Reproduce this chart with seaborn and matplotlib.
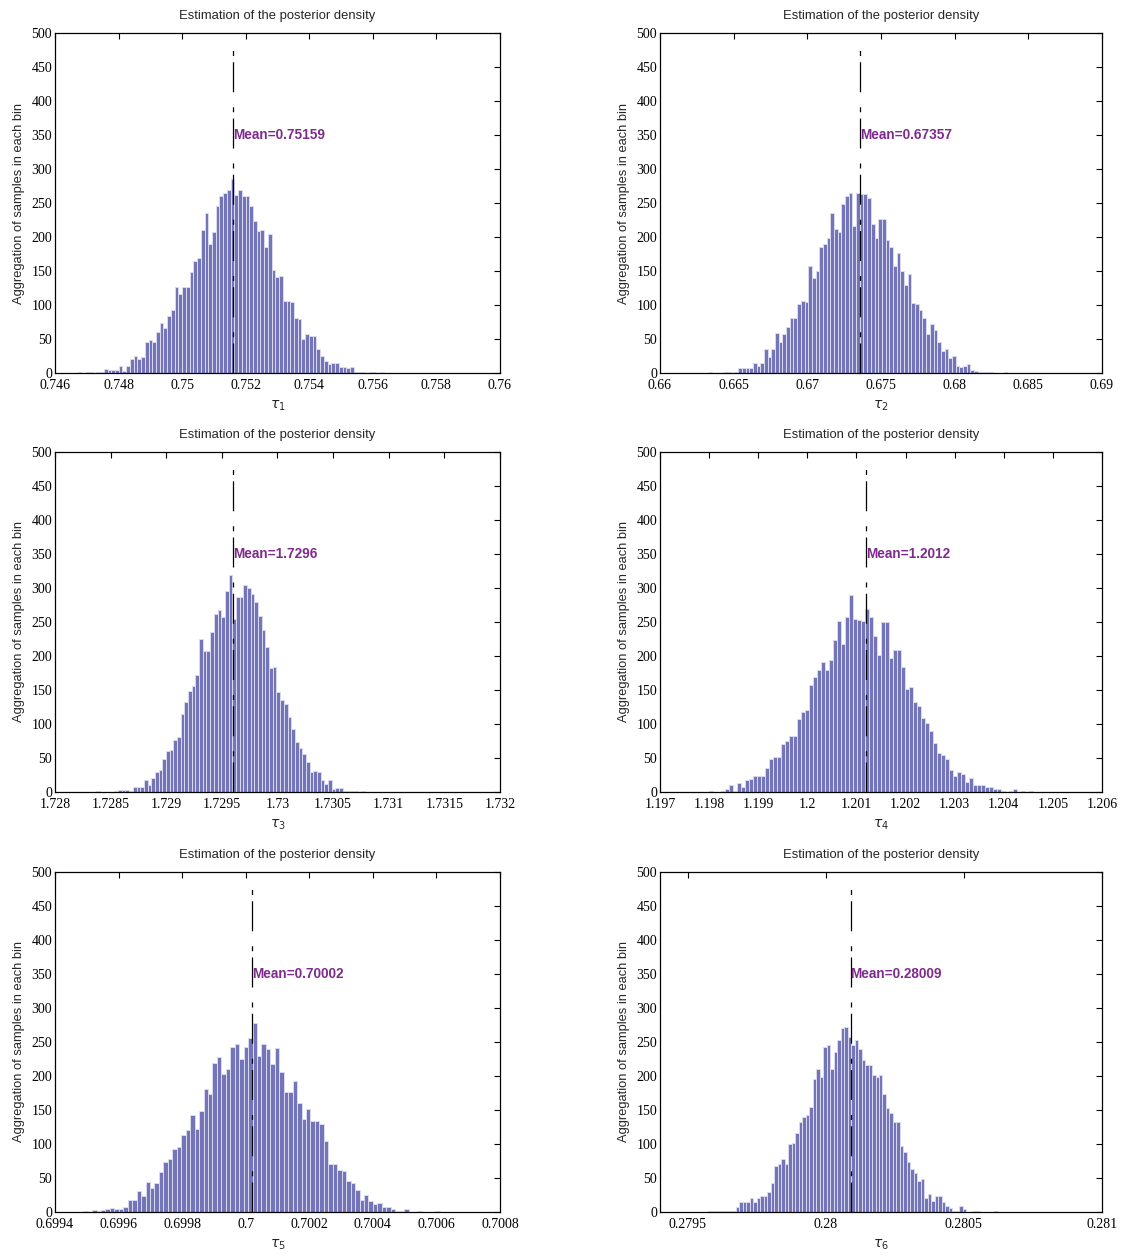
import numpy as np
import pandas as pd
import matplotlib
matplotlib.use("Agg")
import matplotlib.pyplot as plt
import matplotlib.ticker as mticker
import seaborn as sns

# ---------------------------------------------------------------
# histogram counts (one list per parameter)
# first = centre of first bin, width = bin width
# ---------------------------------------------------------------
tau1_counts = [1, 0, 1, 1, 0, 1, 2,
               6, 5, 5, 4, 10, 3, 11, 21, 25, 21, 23, 45, 48, 46, 60, 73, 66, 84, 92, 126,
               116, 126, 127, 148, 164, 169, 210, 235, 190, 208, 246, 260, 265, 269, 286, 262,
               269, 260, 261, 245, 224, 209, 210, 186, 205, 151, 141, 143, 106, 106, 104, 81,
               80, 50, 58, 55, 54, 35, 25, 17, 13, 15, 15, 9, 9, 7, 9, 1, 1, 2,
               0, 1, 1, 0, 1, 0]
tau1_first, tau1_width, tau1_mean = 0.7467726, 1.1735e-4, 0.75159

tau2_counts = [2, 0, 0, 0, 1, 2, 0, 2,
               7, 7, 7, 7, 14, 10, 14, 36, 23, 36, 59, 46, 57, 67, 81, 81, 101, 106, 105, 158,
               140, 150, 186, 189, 199, 235, 212, 207, 248, 261, 264, 216, 264, 263, 263, 258,
               219, 198, 227, 227, 196, 185, 158, 176, 150, 130, 146, 103, 102, 93, 81, 57,
               72, 63, 45, 33, 35, 22, 25, 11, 9, 10, 13, 5, 3, 2, 2,
               1, 1, 0, 0, 0, 2]
tau2_first, tau2_width, tau2_mean = 0.663428, 2.502e-4, 0.67357

tau3_counts = [1, 0, 0, 0, 0, 1,
               3, 3, 3, 2, 8, 8, 8, 18, 11, 20, 30, 32, 49, 61, 62, 77, 81, 114, 132, 149,
               156, 172, 225, 208, 208, 236, 262, 268, 257, 296, 319, 254, 287, 287, 304, 300,
               291, 280, 259, 238, 213, 182, 184, 147, 135, 129, 110, 92, 73, 65, 56, 44, 29,
               31, 30, 18, 12, 17, 5, 6, 6, 2, 2,
               1, 2, 0, 1]
tau3_first, tau3_width, tau3_mean = 1.728385, 3.311e-5, 1.7296

tau4_counts = [1, 0, 0, 1,
               5, 11, 2, 13, 8, 18, 19, 24, 24, 24, 35, 48, 52, 51, 70, 75, 82, 82, 107, 117,
               120, 157, 169, 180, 191, 180, 194, 223, 252, 218, 257, 290, 254, 253, 252, 269,
               257, 229, 202, 250, 250, 197, 209, 209, 184, 152, 154, 132, 127, 109, 102, 89,
               72, 57, 54, 48, 33, 24, 29, 27, 15, 20, 11, 11, 11, 8, 7, 5, 5,
               1, 0, 2, 4, 0, 2, 0, 1]
tau4_first, tau4_width, tau4_mean = 1.198030, 8.165e-5, 1.2012

tau5_counts = [1, 0,
               3, 2, 3, 4, 6, 5, 5, 7, 17, 18, 31, 23, 44, 36, 42, 59, 73, 78, 93, 95, 113, 121,
               142, 122, 149, 181, 174, 219, 228, 203, 211, 243, 247, 225, 242, 256, 278, 229,
               247, 239, 217, 241, 206, 177, 177, 192, 161, 137, 152, 134, 134, 130, 105, 70,
               71, 62, 60, 45, 42, 32, 17, 25, 16, 12, 13, 8, 8, 5, 2, 2, 5,
               0, 0, 1, 0, 0, 0, 1]
tau5_first, tau5_width, tau5_mean = 0.6994957, 1.4021e-5, 0.70002

tau6_counts = [2, 2, 1, 2, 2, 1, 2, 2,
               8, 15, 14, 14, 20, 14, 20, 23, 23, 29, 43, 67, 71, 78, 71, 100, 102, 116, 132,
               140, 143, 155, 195, 210, 199, 243, 245, 211, 236, 253, 270, 272, 258, 245, 253,
               239, 223, 216, 216, 201, 199, 201, 174, 153, 146, 132, 132, 97, 88, 73, 63, 58,
               46, 49, 21, 27, 16, 23, 23, 15, 9, 6, 1, 1, 9, 4,
               0, 0, 1, 1, 0, 0, 0, 0, 2]
tau6_first, tau6_width, tau6_mean = 0.2795800, 1.2634e-5, 0.28009

mean_labels = ["Mean=0.75159", "Mean=0.67357", "Mean=1.7296",
               "Mean=1.2012", "Mean=0.70002", "Mean=0.28009"]

x_limits = [(0.746, 0.760), (0.66, 0.69), (1.728, 1.732),
            (1.197, 1.206), (0.6994, 0.7008), (0.2794, 0.281)]
x_ticks = [np.arange(0.746, 0.7601, 0.002),
           np.arange(0.66, 0.6901, 0.005),
           np.arange(1.728, 1.73201, 0.0005),
           np.arange(1.197, 1.20601, 0.001),
           np.arange(0.6994, 0.70081, 0.0002),
           np.arange(0.2795, 0.28101, 0.0005)]

panels = [
    (tau1_counts, tau1_first, tau1_width, tau1_mean),
    (tau2_counts, tau2_first, tau2_width, tau2_mean),
    (tau3_counts, tau3_first, tau3_width, tau3_mean),
    (tau4_counts, tau4_first, tau4_width, tau4_mean),
    (tau5_counts, tau5_first, tau5_width, tau5_mean),
    (tau6_counts, tau6_first, tau6_width, tau6_mean),
]

sns.set_style("white")
plt.rcParams["mathtext.fontset"] = "dejavusans"
plt.rcParams["axes.linewidth"] = 0.9

W, H = 1121, 1258
fig = plt.figure(figsize=(W / 100, H / 100), dpi=100)

# axes boxes in pixels: left/right and top/bottom
col_x = [(55, 500), (660, 1102)]
row_y = [(33, 373), (452, 792), (872, 1212)]

bar_color = "#7474b8"
edge_color = "#dadaf0"
serif = ["Liberation Serif", "DejaVu Serif"]
sans = ["Liberation Sans", "DejaVu Sans"]

for i, (counts, first, width, mean) in enumerate(panels):
    r, c = divmod(i, 2)
    x0, x1 = col_x[c]
    y0, y1 = row_y[r]
    ax = fig.add_axes([x0 / W, 1 - y1 / H, (x1 - x0) / W, (y1 - y0) / H])

    n = len(counts)
    df = pd.DataFrame({"x": first + width * np.arange(n),
                       "w": np.asarray(counts, dtype=float)})
    edges = list(first - width / 2 + width * np.arange(n + 1))

    sns.histplot(data=df, x="x", weights="w", bins=edges, ax=ax,
                 color=bar_color, edgecolor=edge_color, linewidth=0.7, alpha=1.0)

    # mean marker
    ax.plot([mean, mean], [0, 487], color="black", lw=0.9,
            linestyle=(0, (24, 5, 4, 12)))
    ax.text(mean, 350, mean_labels[i], color="#7e2b8d",
            fontsize=9.8, fontweight="bold", family=sans, va="center", ha="left")

    ax.set_xlim(*x_limits[i])
    ax.set_ylim(0, 500)
    ax.set_xticks(x_ticks[i])
    ax.set_yticks(np.arange(0, 501, 50))
    ax.xaxis.set_major_formatter(mticker.FuncFormatter(lambda v, p: f"{round(v, 6):g}"))
    ax.tick_params(direction="in", length=4, width=0.8, top=True, right=True,
                   labelsize=10, colors="black")
    ax.tick_params(axis="x", pad=4)
    ax.tick_params(axis="y", pad=2)
    for lab in ax.get_xticklabels() + ax.get_yticklabels():
        lab.set_family(serif)
    for sp in ax.spines.values():
        sp.set_color("black")

    ax.set_title("Estimation of the posterior density", fontsize=9.4, family=sans, pad=10)
    ax.set_ylabel("Aggregation of samples in each bin", fontsize=9.3, family=sans, labelpad=5)
    ax.set_xlabel(r"$\tau_{%d}$" % (i + 1), fontsize=10, labelpad=5)

fig.savefig("out.png", dpi=100)
